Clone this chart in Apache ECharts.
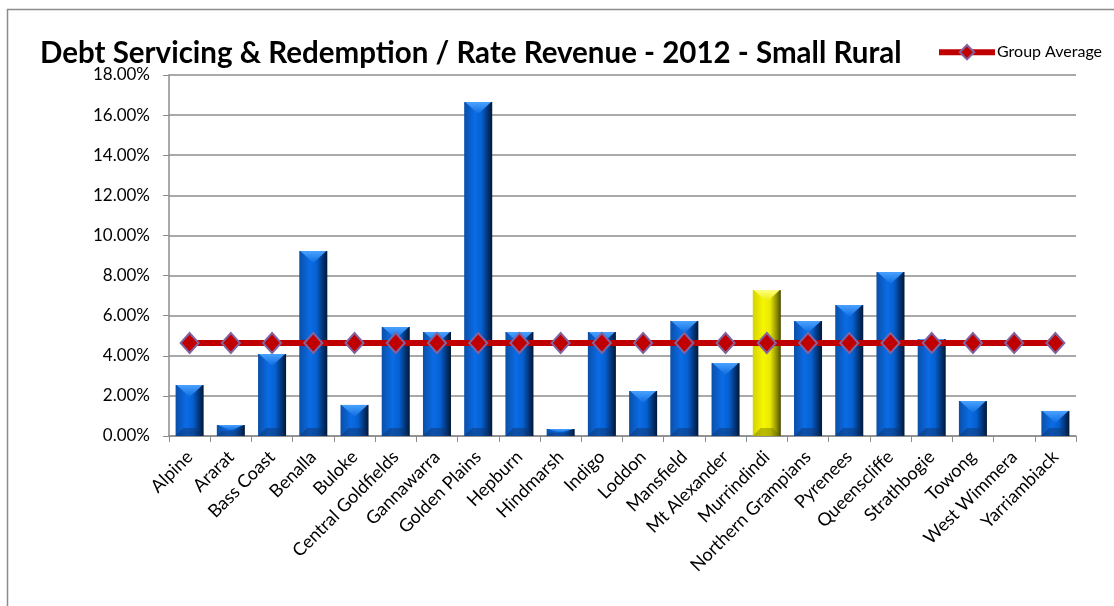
<!DOCTYPE html>
<html>
<head>
<meta charset="utf-8">
<script src="https://cdn.jsdelivr.net/npm/echarts@6/dist/echarts.min.js"></script>
<style>
  html, body { margin: 0; padding: 0; background: #fff; }
  #chart { width: 1114px; height: 606px; }
</style>
</head>
<body>
<div id="chart"></div>
<script>
// Councils in the Small Rural group
const councils = [
  'Alpine', 'Ararat', 'Bass Coast', 'Benalla', 'Buloke', 'Central Goldfields',
  'Gannawarra', 'Golden Plains', 'Hepburn', 'Hindmarsh', 'Indigo', 'Loddon',
  'Mansfield', 'Mt Alexander', 'Murrindindi', 'Northern Grampians', 'Pyrenees',
  'Queenscliffe', 'Strathbogie', 'Towong', 'West Wimmera', 'Yarriambiack'
];
// Debt servicing & redemption as % of rate revenue, 2012
const ratioPct = [
  2.54, 0.55, 4.09, 9.22, 1.55, 5.43,
  5.18, 16.65, 5.18, 0.35, 5.18, 2.24,
  5.73, 3.64, 7.28, 5.73, 6.53,
  8.18, 4.84, 1.74, 0, 1.25
];
// Group average, one point per council
const groupAveragePct = [
  4.64, 4.64, 4.64, 4.64, 4.64, 4.64,
  4.64, 4.64, 4.64, 4.64, 4.64, 4.64,
  4.64, 4.64, 4.64, 4.64, 4.64,
  4.64, 4.64, 4.64, 4.64, 4.64
];
const highlighted = 'Murrindindi';

const FONT = 'Lato, "Open Sans", sans-serif';

const palettes = {
  blue: {
    body: [['#0a4fa8', 0], ['#0a6ce6', 0.38], ['#0660d0', 0.62], ['#02306e', 0.86], ['#011834', 1]],
    top: ['#4aa2ff', '#0d6be0'],
    base: 'rgba(18, 48, 100, 0.45)'
  },
  yellow: {
    body: [['#d4d400', 0], ['#f6f600', 0.38], ['#e8e800', 0.62], ['#8c8c00', 0.86], ['#484800', 1]],
    top: ['#ffff80', '#eaea00'],
    base: 'rgba(100, 100, 0, 0.4)'
  }
};

function grad(stops) {
  return new echarts.graphic.LinearGradient(0, 0, 1, 0,
    stops.map(([color, offset]) => ({ offset, color })));
}

// Bevelled column: gradient body, light chevron on top, shaded base
function renderBar(params, api) {
  const idx = api.value(0);
  const val = api.value(1);
  if (!(val > 0)) return null;
  const top = api.coord([idx, val]);
  const base = api.coord([idx, 0]);
  const w = api.size([1, 0])[0] * 0.68;
  const x0 = top[0] - w / 2, x1 = top[0] + w / 2, xc = top[0];
  const y0 = top[1], yb = base[1];
  const h = yb - y0;
  const d = Math.min(12, h / 2);
  const db = Math.min(8, h / 2);
  const pal = councils[idx] === highlighted ? palettes.yellow : palettes.blue;
  return {
    type: 'group',
    children: [
      { type: 'rect', shape: { x: x0, y: y0, width: w, height: h }, style: { fill: grad(pal.body) } },
      {
        type: 'polygon',
        shape: { points: [[x0 + 1, y0], [x1 - 1, y0], [xc, y0 + d]] },
        style: { fill: new echarts.graphic.LinearGradient(0, 0, 0, 1, [
          { offset: 0, color: pal.top[0] }, { offset: 1, color: pal.top[1] }]) }
      },
      {
        type: 'polygon',
        shape: { points: [[x0, yb], [x1, yb], [x1 - db, yb - db], [x0 + db, yb - db]] },
        style: { fill: pal.base }
      }
    ]
  };
}

const chart = echarts.init(document.getElementById('chart'), null, { renderer: 'canvas' });
chart.setOption({
  animation: false,
  backgroundColor: '#ffffff',
  title: {
    text: 'Debt Servicing & Redemption / Rate Revenue - 2012 - Small Rural',
    left: 35,
    top: 33,
    textStyle: { fontFamily: FONT, fontWeight: 'bold', fontSize: 29.5, color: '#000' }
  },
  legend: {
    left: 931,
    top: 39,
    itemWidth: 56,
    itemHeight: 18,
    itemGap: 4,
    lineStyle: { width: 6 },
    textStyle: { fontFamily: FONT, fontSize: 16, color: '#000', padding: [0, 0, 0, -3] },
    data: [{ name: 'Group Average' }]
  },
  graphic: [{
    type: 'rect',
    shape: { x: 7.5, y: 9.5, width: 1120, height: 620 },
    style: { fill: 'none', stroke: '#8c8c8c', lineWidth: 1.5 },
    silent: true,
    z: -1
  }],
  grid: { left: 169, right: 38, top: 75, bottom: 170, containLabel: false },
  xAxis: {
    type: 'category',
    data: councils,
    axisLine: { lineStyle: { color: '#8c8c8c', width: 1.5 } },
    axisTick: { show: true, alignWithLabel: false, length: 6, lineStyle: { color: '#8c8c8c' } },
    axisLabel: {
      interval: 0,
      rotate: 45,
      margin: 18,
      fontFamily: FONT,
      fontSize: 18,
      color: '#000'
    }
  },
  yAxis: {
    type: 'value',
    min: 0,
    max: 18,
    interval: 2,
    axisLine: { show: true, lineStyle: { color: '#8c8c8c', width: 1.5 } },
    axisTick: { show: true, length: 6, lineStyle: { color: '#8c8c8c' } },
    splitLine: { lineStyle: { color: '#8c8c8c', width: 1.5 } },
    axisLabel: {
      formatter: v => v.toFixed(2) + '%',
      margin: 19,
      fontFamily: FONT,
      fontSize: 17,
      color: '#000'
    }
  },
  series: [
    {
      name: 'Ratio',
      type: 'custom',
      renderItem: renderBar,
      data: ratioPct.map((v, i) => [i, v]),
      encode: { x: 0, y: 1 },
      z: 2
    },
    {
      name: 'Group Average',
      type: 'line',
      data: groupAveragePct,
      symbol: 'diamond',
      symbolSize: [18, 20],
      lineStyle: { color: '#c00000', width: 6 },
      itemStyle: { color: '#c00000', borderColor: '#8064a2', borderWidth: 2 },
      z: 3
    }
  ]
});
</script>
</body>
</html>
